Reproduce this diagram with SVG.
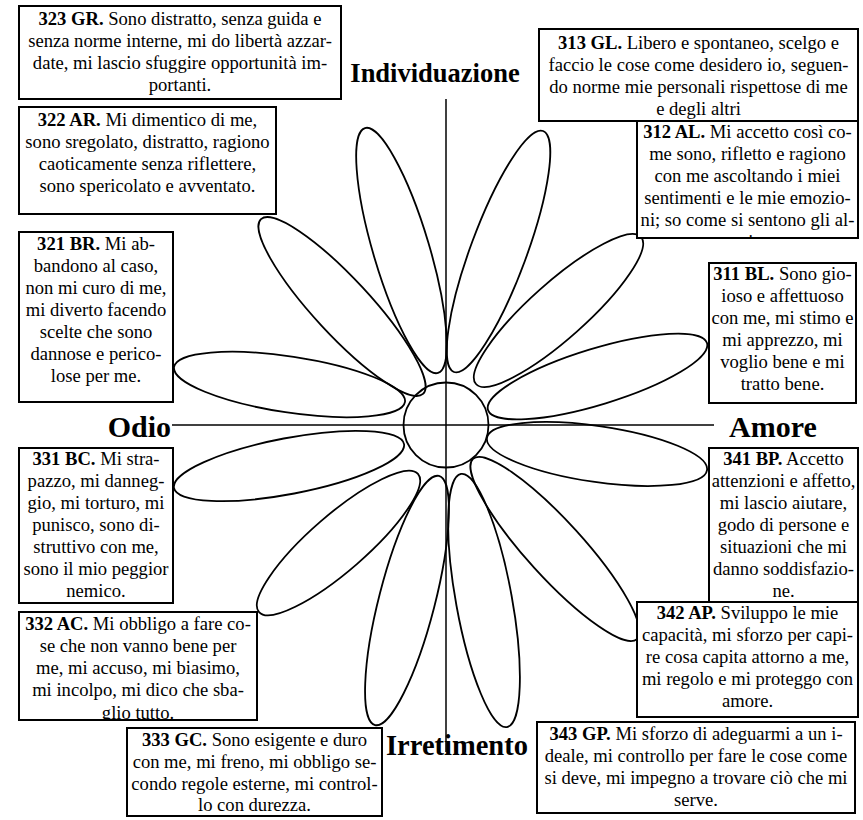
<svg xmlns="http://www.w3.org/2000/svg" width="863" height="820" viewBox="0 0 863 820">
<style>
.t{font-family:"Liberation Serif","Times New Roman",serif;font-size:18.6px;text-anchor:middle;fill:#000}
.b{font-weight:bold}
.box{fill:#fff;stroke:#000;stroke-width:2}
.petal{fill:none;stroke:#000;stroke-width:1.8}
.axis{stroke:#000;stroke-width:1.5;fill:none}
.lbl{font-family:"Liberation Serif","Times New Roman",serif;font-weight:bold;fill:#000}
</style>
<defs>
<clipPath id="c312"><rect x="637" y="121" width="221" height="117"/></clipPath>
<clipPath id="c332"><rect x="19" y="612" width="238" height="108"/></clipPath>
</defs>
<rect width="863" height="820" fill="#fff"/>
<g id="axes">
<line class="axis" x1="446" y1="99" x2="446" y2="752"/>
<line class="axis" x1="172" y1="425" x2="714" y2="425"/>
</g>
<g id="flower">
<ellipse class="petal" cx="401.5" cy="250.5" rx="127.8" ry="28" transform="rotate(73.4 401.5 250.5)"/>
<ellipse class="petal" cx="498.5" cy="251.5" rx="128.5" ry="28" transform="rotate(-69.7 498.5 251.5)"/>
<ellipse class="petal" cx="342" cy="306.5" rx="119.2" ry="28" transform="rotate(47.2 342 306.5)"/>
<ellipse class="petal" cx="558.5" cy="310.5" rx="110.5" ry="28" transform="rotate(-41.7 558.5 310.5)"/>
<ellipse class="petal" cx="289.5" cy="384.5" rx="116.8" ry="28" transform="rotate(8.6 289.5 384.5)"/>
<ellipse class="petal" cx="597.5" cy="376.5" rx="114.5" ry="28" transform="rotate(-17 597.5 376.5)"/>
<ellipse class="petal" cx="289" cy="466" rx="117.1" ry="28" transform="rotate(-10.8 289 466)"/>
<ellipse class="petal" cx="597" cy="454" rx="111.2" ry="28" transform="rotate(8.3 597 454)"/>
<ellipse class="petal" cx="338.5" cy="543" rx="105.3" ry="28" transform="rotate(-41 338.5 543)"/>
<ellipse class="petal" cx="555" cy="549" rx="121.8" ry="28" transform="rotate(47.7 555 549)"/>
<ellipse class="petal" cx="407" cy="600.5" rx="128.6" ry="28" transform="rotate(-75.6 407 600.5)"/>
<ellipse class="petal" cx="484" cy="600.5" rx="128.6" ry="28" transform="rotate(79.7 484 600.5)"/>
<circle class="petal" cx="446" cy="425" r="42.5"/>
</g>
<g id="n323">
<rect class="box" x="19" y="6" width="322" height="93"/>
<text class="t" x="180" y="24.5"><tspan class="b">323 GR.</tspan> Sono distratto, senza guida e</text>
<text class="t" x="180" y="46.5">senza norme interne, mi do libertà azzar-</text>
<text class="t" x="180" y="68.5">date, mi lascio sfuggire opportunità im-</text>
<text class="t" x="180" y="90.5">portanti.</text>
</g>
<g id="n322">
<rect class="box" x="19" y="107" width="257" height="107"/>
<text class="t" x="147.5" y="126"><tspan class="b">322 AR.</tspan> Mi dimentico di me,</text>
<text class="t" x="147.5" y="148">sono sregolato, distratto, ragiono</text>
<text class="t" x="147.5" y="170">caoticamente senza riflettere,</text>
<text class="t" x="147.5" y="192">sono spericolato e avventato.</text>
</g>
<g id="n321">
<rect class="box" x="19" y="232" width="154" height="170"/>
<text class="t" x="96" y="250"><tspan class="b">321 BR.</tspan> Mi ab-</text>
<text class="t" x="96" y="272">bandono al caso,</text>
<text class="t" x="96" y="294">non mi curo di me,</text>
<text class="t" x="96" y="316">mi diverto facendo</text>
<text class="t" x="96" y="338">scelte che sono</text>
<text class="t" x="96" y="360">dannose e perico-</text>
<text class="t" x="96" y="382">lose per me.</text>
</g>
<g id="n313">
<rect class="box" x="539" y="29" width="319" height="92"/>
<text class="t" x="698.5" y="49"><tspan class="b">313 GL.</tspan> Libero e spontaneo, scelgo e</text>
<text class="t" x="698.5" y="71">faccio le cose come desidero io, seguen-</text>
<text class="t" x="698.5" y="93">do norme mie personali rispettose di me</text>
<text class="t" x="698.5" y="115">e degli altri</text>
</g>
<g id="n312">
<rect class="box" x="637" y="121" width="221" height="117"/>
<g clip-path="url(#c312)">
<text class="t" x="747.5" y="138"><tspan class="b">312 AL.</tspan> Mi accetto così co-</text>
<text class="t" x="747.5" y="160">me sono, rifletto e ragiono</text>
<text class="t" x="747.5" y="182">con me ascoltando i miei</text>
<text class="t" x="747.5" y="204">sentimenti e le mie emozio-</text>
<text class="t" x="747.5" y="226">ni; so come si sentono gli al-</text>
<text class="t" x="747.5" y="248">tri.</text>
</g>
</g>
<g id="n311">
<rect class="box" x="709" y="263" width="147" height="140"/>
<text class="t" x="782.5" y="280"><tspan class="b">311 BL.</tspan> Sono gio-</text>
<text class="t" x="782.5" y="302">ioso e affettuoso</text>
<text class="t" x="782.5" y="324">con me, mi stimo e</text>
<text class="t" x="782.5" y="346">mi apprezzo, mi</text>
<text class="t" x="782.5" y="368">voglio bene e mi</text>
<text class="t" x="782.5" y="390">tratto bene.</text>
</g>
<g id="n331">
<rect class="box" x="19" y="448" width="154" height="155"/>
<text class="t" x="96" y="465"><tspan class="b">331 BC.</tspan> Mi stra-</text>
<text class="t" x="96" y="487">pazzo, mi danneg-</text>
<text class="t" x="96" y="509">gio, mi torturo, mi</text>
<text class="t" x="96" y="531">punisco, sono di-</text>
<text class="t" x="96" y="553">struttivo con me,</text>
<text class="t" x="96" y="575">sono il mio peggior</text>
<text class="t" x="96" y="597">nemico.</text>
</g>
<g id="n341">
<rect class="box" x="709" y="448" width="149" height="154"/>
<text class="t" x="783.5" y="465"><tspan class="b">341 BP.</tspan> Accetto</text>
<text class="t" x="783.5" y="487">attenzioni e affetto,</text>
<text class="t" x="783.5" y="509">mi lascio aiutare,</text>
<text class="t" x="783.5" y="531">godo di persone e</text>
<text class="t" x="783.5" y="553">situazioni che mi</text>
<text class="t" x="783.5" y="575">danno soddisfazio-</text>
<text class="t" x="783.5" y="597">ne.</text>
</g>
<g id="n342">
<rect class="box" x="637" y="602" width="221" height="115"/>
<text class="t" x="747.5" y="619"><tspan class="b">342 AP.</tspan> Sviluppo le mie</text>
<text class="t" x="747.5" y="641">capacità, mi sforzo per capi-</text>
<text class="t" x="747.5" y="663">re cosa capita attorno a me,</text>
<text class="t" x="747.5" y="685">mi regolo e mi proteggo con</text>
<text class="t" x="747.5" y="707">amore.</text>
</g>
<g id="n332">
<rect class="box" x="19" y="612" width="238" height="108"/>
<g clip-path="url(#c332)">
<text class="t" x="138" y="630"><tspan class="b">332 AC.</tspan> Mi obbligo a fare co-</text>
<text class="t" x="138" y="652">se che non vanno bene per</text>
<text class="t" x="138" y="674">me, mi accuso, mi biasimo,</text>
<text class="t" x="138" y="696">mi incolpo, mi dico che sba-</text>
<text class="t" x="138" y="719">glio tutto.</text>
</g>
</g>
<g id="n333">
<rect class="box" x="127" y="728" width="255" height="88"/>
<text class="t" x="254.5" y="746"><tspan class="b">333 GC.</tspan> Sono esigente e duro</text>
<text class="t" x="254.5" y="768">con me, mi freno, mi obbligo se-</text>
<text class="t" x="254.5" y="790">condo regole esterne, mi control-</text>
<text class="t" x="254.5" y="811">lo con durezza.</text>
</g>
<g id="n343">
<rect class="box" x="537" y="722" width="318" height="91"/>
<text class="t" x="696" y="740"><tspan class="b">343 GP.</tspan> Mi sforzo di adeguarmi a un i-</text>
<text class="t" x="696" y="762">deale, mi controllo per fare le cose come</text>
<text class="t" x="696" y="784">si deve, mi impegno a trovare ciò che mi</text>
<text class="t" x="696" y="806">serve.</text>
</g>
<g id="labels">
<text class="lbl" x="435" y="82" font-size="26.5" text-anchor="middle">Individuazione</text>
<text class="lbl" x="171" y="437" font-size="30" text-anchor="end">Odio</text>
<text class="lbl" x="729" y="437" font-size="30">Amore</text>
<text class="lbl" x="386" y="755" font-size="28.5">Irretimento</text>
</g>
</svg>
